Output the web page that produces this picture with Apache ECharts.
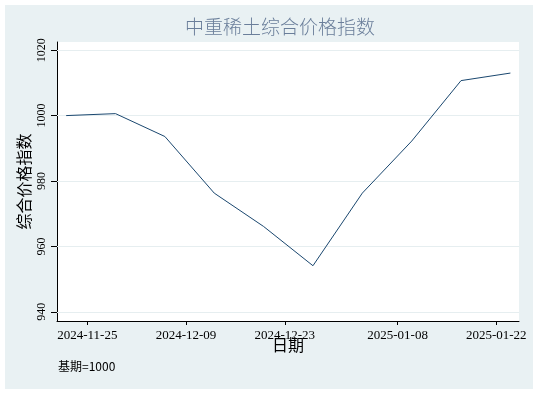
<!DOCTYPE html>
<html>
<head>
<meta charset="utf-8">
<script src="https://cdn.jsdelivr.net/npm/echarts@6/dist/echarts.min.js"></script>
<style>
html,body{margin:0;padding:0;background:#fff;}
#c{width:538px;height:394px;}
</style>
</head>
<body>
<div id="c"></div>
<script>
// ---- data ----
var dates = ['2024-11-22','2024-11-29','2024-12-06','2024-12-13','2024-12-20','2024-12-27','2025-01-03','2025-01-10','2025-01-17','2025-01-24'];
var values = [1000.0, 1000.6, 993.6, 976.3, 966.1, 954.1, 976.3, 992.2, 1010.7, 1013.0];
var xTickLabels = ['2024-11-25','2024-12-09','2024-12-23','2025-01-08','2025-01-22'];
var yTicks = [940, 960, 980, 1000, 1020];
var titleText = '中重稀土综合价格指数';
var yTitle = '综合价格指数';
var xTitle = '日期';
var noteText = '基期=1000';

// day numbers (days since 1970-01-01, UTC)
function toDay(s){ var p = s.split('-'); return Date.UTC(+p[0], +p[1]-1, +p[2]) / 86400000; }
function pad(n){ return (n<10?'0':'')+n; }
function fmt(day){ var d = new Date(Math.round(day)*86400000); return d.getUTCFullYear()+'-'+pad(d.getUTCMonth()+1)+'-'+pad(d.getUTCDate()); }

var seriesData = dates.map(function(d,i){ return [toDay(d), values[i]]; });
var xTickVals = xTickLabels.map(toDay);
var xMin = toDay('2024-11-25') - 4.30;
var xMax = toDay('2025-01-22') + 3.22;

var serifFont = '"Liberation Serif", "DejaVu Serif", serif';
var cjkFont = '"Noto Sans CJK SC", "Noto Sans", sans-serif';

var chart = echarts.init(document.getElementById('c'), null, {renderer:'canvas'});
chart.setOption({
  animation: false,
  backgroundColor: '#ffffff',
  graphic: [
    {type:'rect', z:-10, silent:true, shape:{x:5,y:5,width:528,height:384}, style:{fill:'#e9f1f3'}},
    {type:'text', x:280, y:17, style:{text:titleText, font:'300 19px '+cjkFont, fill:'#6a7e9a', align:'center', verticalAlign:'top'}},
    {type:'text', x:58, y:360, style:{text:noteText, font:'12px '+cjkFont, fill:'#000'}}
  ],
  grid: {left:57, right:19, top:42, bottom:73, show:true, backgroundColor:'#ffffff', borderWidth:0},
  xAxis: {
    type:'value', min:xMin, max:xMax,
    name: xTitle, nameLocation:'middle', nameGap:16, nameMoveOverlap:false,
    nameTextStyle:{fontFamily:cjkFont, fontSize:16, color:'#000'},
    axisLine:{show:true, onZero:false, lineStyle:{color:'#000', width:1}},
    axisTick:{show:true, length:4, lineStyle:{color:'#000'}, customValues:xTickVals},
    axisLabel:{show:true, margin:8, fontFamily:serifFont, fontSize:13, color:'#000', customValues:xTickVals,
      formatter:function(v){ return fmt(v); }, hideOverlap:false},
    splitLine:{show:false}
  },
  yAxis: {
    type:'value', min:937.2, max:1022.5,
    name: yTitle, nameLocation:'middle', nameGap:25, nameRotate:90, nameMoveOverlap:false,
    nameTextStyle:{fontFamily:cjkFont, fontSize:16, color:'#000'},
    axisLine:{show:true, onZero:false, lineStyle:{color:'#000', width:1}},
    axisTick:{show:true, length:6, lineStyle:{color:'#000'}, customValues:yTicks},
    axisLabel:{show:true, rotate:90, margin:9, fontFamily:serifFont, fontSize:12, color:'#000', customValues:yTicks,
      formatter:function(v){ return String(Math.round(v)); }},
    splitLine:{show:false}
  },
  series: [{
    type:'line', data:seriesData, symbol:'none',
    lineStyle:{color:'#1a476f', width:1},
    z:3,
    markLine:{silent:true, symbol:['none','none'], label:{show:false}, animation:false,
      lineStyle:{color:'#e6eef0', width:1, type:'solid'},
      data: yTicks.map(function(v){ return {yAxis:v}; }), z:1}
  }]
});
</script>
</body>
</html>
